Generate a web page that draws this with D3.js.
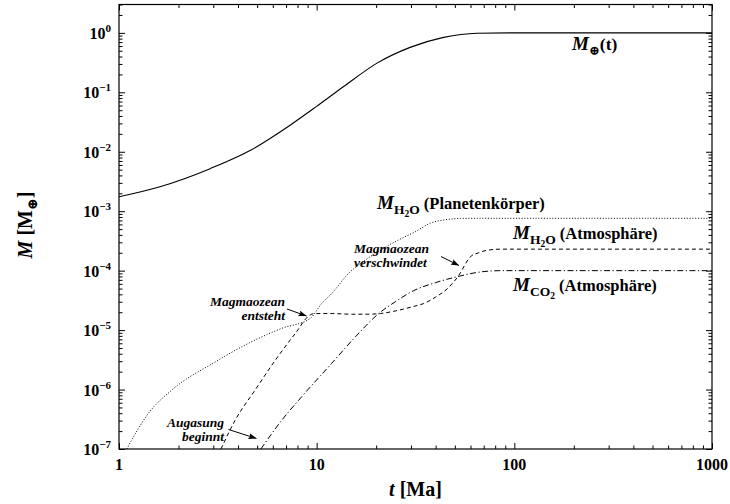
<!DOCTYPE html>
<html>
<head>
<meta charset="utf-8">
<script src="https://cdn.jsdelivr.net/npm/d3@7"></script>
<style>
  body { margin: 0; background: #fff; }
  text { font-family: "Liberation Serif", "DejaVu Serif", serif; font-weight: bold; fill: #000; }
</style>
</head>
<body>
<svg id="chart" width="730" height="504"></svg>
<script>
// Time axis in Ma, masses in Earth masses.
const tEarth      = [1, 1.61, 2.89, 4.6, 7.34, 10, 13.7, 20.2, 29.7, 43.9, 64.7, 95, 1000];
const massEarth   = [1.75e-3, 2.58e-3, 5.2e-3, 1.05e-2, 2.8e-2, 5.8e-2, 0.125, 0.31, 0.57, 0.84, 0.985, 1.0, 1.0];

const tH2OBody    = [1.094, 1.41, 1.85, 3.06, 4.52, 6.66, 9.27, 10.6, 11.9, 14.5, 17.6, 21.4, 26.5, 31.5, 37.6, 45, 53.3, 70, 1000];
const massH2OBody = [1e-7, 4.0e-7, 9.8e-7, 2.9e-6, 6.0e-6, 1.07e-5, 1.57e-5, 2.8e-5, 4.1e-5, 9.0e-5, 1.5e-4, 2.3e-4, 3.4e-4, 4.5e-4, 6.3e-4, 7.2e-4, 7.55e-4, 7.6e-4, 7.6e-4];

const tH2OAtm     = [3.28, 3.87, 4.88, 6.17, 7.78, 9.27, 9.8, 12, 15, 18, 21, 25, 30.9, 34.8, 40, 45.6, 52.2, 59.8, 66, 72.8, 85, 1000];
const massH2OAtm  = [1e-7, 3.05e-7, 9.8e-7, 3.1e-6, 8.7e-6, 1.8e-5, 1.9e-5, 1.9e-5, 1.85e-5, 1.85e-5, 1.9e-5, 2.1e-5, 2.5e-5, 2.8e-5, 3.6e-5, 4.9e-5, 8.2e-5, 1.7e-4, 2.0e-4, 2.2e-4, 2.3e-4, 2.3e-4];

const tCO2Atm     = [5.22, 6.66, 8.41, 11.9, 15.7, 20.6, 25, 30.9, 40, 51.3, 67.3, 85, 1000];
const massCO2Atm  = [1e-7, 3.05e-7, 7.6e-7, 2.75e-6, 7.7e-6, 1.9e-5, 3.0e-5, 4.6e-5, 6.3e-5, 7.9e-5, 9.5e-5, 1.0e-4, 1.0e-4];

const xTickValues = [1, 10, 100, 1000];
const xTickLabels = ["1", "10", "100", "1000"];
const yTickExponents = [0, -1, -2, -3, -4, -5, -6, -7];

const plot = { left: 119, right: 712, top: 4.5, bottom: 449 };

const x = d3.scaleLog().domain([1, 1000]).range([plot.left, plot.right]);
const y = d3.scaleLog().domain([1e-7, 3]).range([plot.bottom, plot.top]);

const svg = d3.select("#chart");
const defs = svg.append("defs");
defs.append("clipPath").attr("id", "plotClip")
  .append("rect")
  .attr("x", plot.left).attr("y", plot.top)
  .attr("width", plot.right - plot.left).attr("height", plot.bottom - plot.top);
defs.append("marker").attr("id", "head")
  .attr("markerUnits", "userSpaceOnUse")
  .attr("viewBox", "0 0 8 6").attr("refX", 8).attr("refY", 3)
  .attr("markerWidth", 8).attr("markerHeight", 6).attr("orient", "auto")
  .append("path").attr("d", "M0,0 L8,3 L0,6 L1.5,3 Z").attr("fill", "#000");

// minor tick positions: 2..9 within each decade
const xMinor = [];
[1, 10, 100].forEach(d => { for (let k = 2; k <= 9; k++) xMinor.push(k * d); });
const yMinor = [];
for (let e = -7; e <= 0; e++) for (let k = 2; k <= 9; k++) {
  const v = k * Math.pow(10, e);
  if (v <= 3) yMinor.push(v);
}

function tickAxis(gen, tx, ty) {
  svg.append("g").attr("transform", `translate(${tx},${ty})`)
    .call(gen)
    .call(g => g.select(".domain").remove())
    .call(g => g.selectAll("line").attr("stroke", "#000").attr("stroke-width", 1));
}
const noLabel = () => "";
// ticks point into the plot on all four sides
tickAxis(d3.axisBottom(x).tickValues(xTickValues).tickSize(-6).tickFormat(noLabel), 0, plot.bottom);
tickAxis(d3.axisBottom(x).tickValues(xMinor).tickSize(-3.5).tickFormat(noLabel), 0, plot.bottom);
tickAxis(d3.axisTop(x).tickValues(xTickValues).tickSize(-6).tickFormat(noLabel), 0, plot.top);
tickAxis(d3.axisTop(x).tickValues(xMinor).tickSize(-3.5).tickFormat(noLabel), 0, plot.top);
const yMajorValues = yTickExponents.map(e => Math.pow(10, e));
tickAxis(d3.axisLeft(y).tickValues(yMajorValues).tickSize(-6).tickFormat(noLabel), plot.left, 0);
tickAxis(d3.axisLeft(y).tickValues(yMinor).tickSize(-3.5).tickFormat(noLabel), plot.left, 0);
tickAxis(d3.axisRight(y).tickValues(yMajorValues).tickSize(-6).tickFormat(noLabel), plot.right, 0);
tickAxis(d3.axisRight(y).tickValues(yMinor).tickSize(-3.5).tickFormat(noLabel), plot.right, 0);

// frame
svg.append("rect")
  .attr("x", plot.left).attr("y", plot.top)
  .attr("width", plot.right - plot.left).attr("height", plot.bottom - plot.top)
  .attr("fill", "none").attr("stroke", "#000").attr("stroke-width", 1.2);

// x tick labels
svg.append("g").selectAll("text").data(xTickValues).join("text")
  .attr("x", d => x(d)).attr("y", plot.bottom + 21)
  .attr("text-anchor", "middle").attr("font-size", 16)
  .text((d, i) => xTickLabels[i]);

// y tick labels as powers of ten
const yLab = svg.append("g").selectAll("text").data(yTickExponents).join("text")
  .attr("x", plot.left - 8).attr("y", e => y(Math.pow(10, e)) + 6)
  .attr("text-anchor", "end").attr("font-size", 16);
yLab.append("tspan").text("10");
yLab.append("tspan").attr("font-size", 11).attr("dy", -7)
  .text(e => e === 0 ? "0" : "\u2212" + Math.abs(e));

// curves
const line = d3.line().x(d => x(d[0])).y(d => y(d[1])).curve(d3.curveMonotoneX);
const curves = [
  { t: tEarth, m: massEarth, dash: null, w: 1.1 },
  { t: tH2OBody, m: massH2OBody, dash: "1,1.8", w: 1 },
  { t: tH2OAtm, m: massH2OAtm, dash: "4,3", w: 1 },
  { t: tCO2Atm, m: massCO2Atm, dash: "6,2.5,1.2,2.5", w: 1 }
];
const cg = svg.append("g").attr("clip-path", "url(#plotClip)");
curves.forEach(c => {
  cg.append("path")
    .datum(c.t.map((t, i) => [t, c.m[i]]))
    .attr("d", line)
    .attr("fill", "none").attr("stroke", "#000")
    .attr("stroke-width", c.w)
    .attr("stroke-dasharray", c.dash);
});

// curve labels with subscripts
function massLabel(px, py, subParts, rest) {
  const t = svg.append("text").attr("x", px).attr("y", py);
  t.append("tspan").attr("font-style", "italic").attr("font-size", 19).text("M");
  let shift = 0;
  subParts.forEach(p => {
    const dy = p.low - shift;
    t.append("tspan").attr("font-size", p.size).attr("dy", dy).text(p.s);
    shift = p.low;
  });
  t.append("tspan").attr("font-size", rest.size).attr("dy", -shift).text(rest.s);
}
massLabel(572, 50, [{ s: "\u2295", size: 13, low: 5 }], { s: "(t)", size: 17.5 });
massLabel(377, 209, [{ s: "H", size: 13.5, low: 5 }, { s: "2", size: 9.5, low: 8 }, { s: "O", size: 13.5, low: 5 }], { s: " (Planetenkörper)", size: 16.5 });
massLabel(513, 239, [{ s: "H", size: 13.5, low: 5 }, { s: "2", size: 9.5, low: 8 }, { s: "O", size: 13.5, low: 5 }], { s: " (Atmosphäre)", size: 16.5 });
massLabel(513, 291, [{ s: "CO", size: 13.5, low: 5 }, { s: "2", size: 9.5, low: 8 }], { s: " (Atmosphäre)", size: 16.5 });

// event annotations with arrows
function note(lines, px, py, anchor) {
  const t = svg.append("text").attr("font-style", "italic").attr("font-size", 13.5)
    .attr("text-anchor", anchor);
  lines.forEach((s, i) => t.append("tspan").attr("x", px).attr("y", py + i * 13.5).text(s));
}
function arrow(x1, y1, x2, y2) {
  svg.append("line").attr("x1", x1).attr("y1", y1).attr("x2", x2).attr("y2", y2)
    .attr("stroke", "#000").attr("stroke-width", 1).attr("marker-end", "url(#head)");
}
note(["Magmaozean", "verschwindet"], 354, 253, "start");
arrow(441, 256.5, 459, 265.5);
note(["Magmaozean", "entsteht"], 285, 306, "end");
arrow(287, 309, 306.5, 316);
note(["Augasung", "beginnt"], 224, 427, "end");
arrow(228.5, 429.5, 256.5, 438.5);

// axis titles
const xt = svg.append("text").attr("x", (plot.left + plot.right) / 2).attr("y", 496)
  .attr("text-anchor", "middle").attr("font-size", 20);
xt.append("tspan").attr("font-style", "italic").text("t");
xt.append("tspan").text(" [Ma]");

const yt = svg.append("text").attr("transform", "translate(32,225) rotate(-90)")
  .attr("text-anchor", "middle").attr("font-size", 20);
yt.append("tspan").attr("font-style", "italic").text("M");
yt.append("tspan").text(" [M");
yt.append("tspan").attr("font-size", 14).attr("dy", 5).text("\u2295");
yt.append("tspan").attr("dy", -5).text("]");
</script>
</body>
</html>
